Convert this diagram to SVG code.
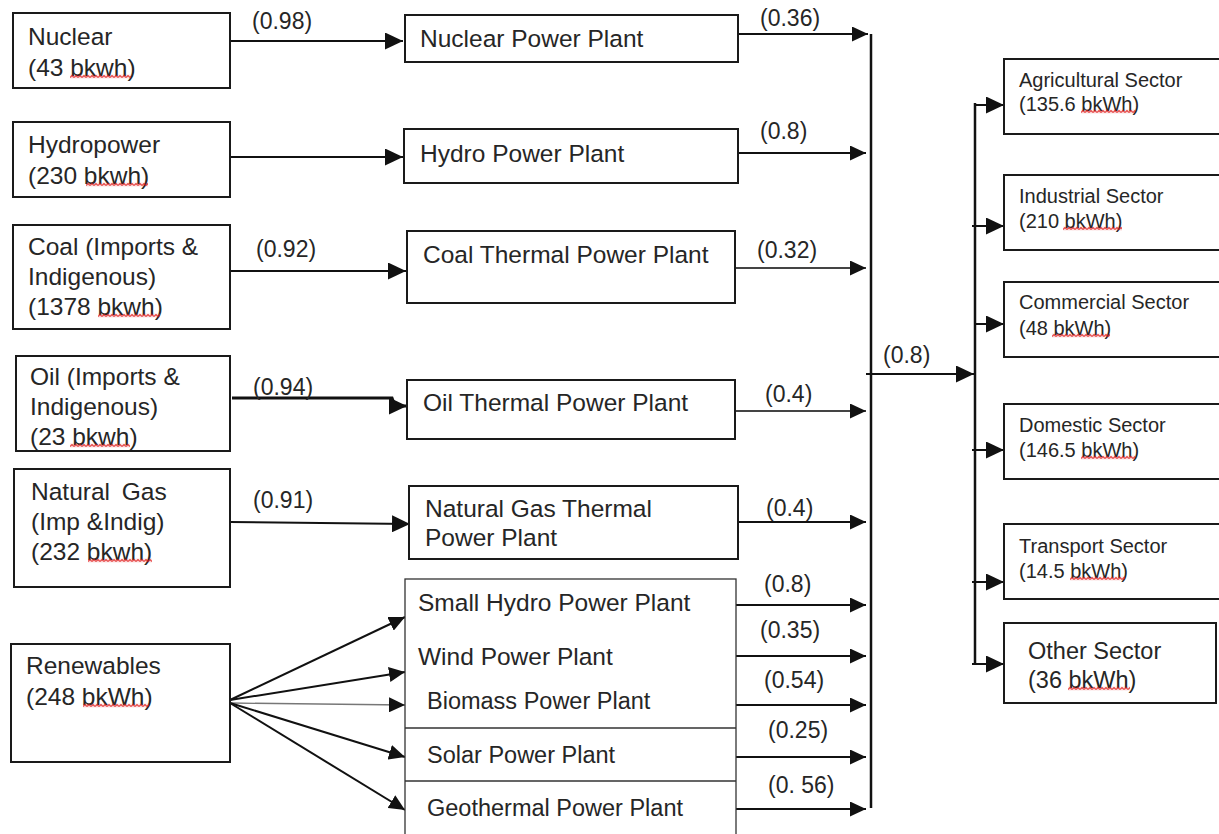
<svg xmlns="http://www.w3.org/2000/svg" width="1219" height="834" viewBox="0 0 1219 834">
<style>
.box{fill:#fff;stroke:#1a1a1a;stroke-width:2}
.thin{fill:#fff;stroke:#333;stroke-width:1.3}
.div{stroke:#333;stroke-width:1.3;fill:none}
.t{font-family:"Liberation Sans",Arial,sans-serif;fill:#262626}
.l{font-size:24.5px}
.s{font-size:20px}
.o{font-size:23.5px}
.lab{font-size:23px}
.c{stroke:#111;stroke-width:2;fill:none}
.cb{marker-end:url(#ab)}
.cs{marker-end:url(#as)}
.sq{fill:url(#sq)}
</style>
<defs>
<marker id="ab" markerUnits="userSpaceOnUse" markerWidth="18" markerHeight="17" refX="18" refY="8.5" orient="auto" viewBox="0 0 18 17"><path d="M0,0 L18,8.5 L0,17 z" fill="#111"/></marker>
<marker id="as" markerUnits="userSpaceOnUse" markerWidth="16" markerHeight="15" refX="16" refY="7.5" orient="auto" viewBox="0 0 16 15"><path d="M0,0 L16,7.5 L0,15 z" fill="#111"/></marker>
<pattern id="sq" patternUnits="userSpaceOnUse" width="4" height="4"><path d="M0,3 L2,1 L4,3" fill="none" stroke="#e01515" stroke-width="1.2"/></pattern>
</defs>

<g id="connectors">
<path class="c cb" d="M230,41 H403"/>
<path class="c cb" d="M230,157 H403"/>
<path class="c cb" d="M230,271 H406"/>
<path class="c cb" d="M232,398 H392 L395,406 H407" style="stroke-width:3"/>
<path class="c cb" d="M230,522 L410,524"/>
<path class="c cs" d="M230,700 L405,617"/>
<path class="c cs" d="M230,700 L405,672"/>
<path class="c cs" d="M230,703 L405,705" style="stroke:#777;stroke-width:1.3"/>
<path class="c cs" d="M230,703 L405,757"/>
<path class="c cs" d="M230,703 L405,810"/>
<path class="c cs" d="M738,34 H868"/>
<path class="c cs" d="M738,153 H866"/>
<path class="c cs" d="M735,268 H866" style="stroke:#444"/>
<path class="c cs" d="M735,411 H866" style="stroke:#444"/>
<path class="c cs" d="M738,522 H866"/>
<path class="c cs" d="M736,605 H866"/>
<path class="c cs" d="M736,656 H866"/>
<path class="c cs" d="M736,705 H866"/>
<path class="c cs" d="M736,757 H866"/>
<path class="c cs" d="M736,809 H866"/>
<path class="c" d="M871,34 V808" style="stroke-width:2.5"/>
<path class="c cb" d="M866,374 H974"/>
<path class="c" d="M975,103 V664" style="stroke-width:2.5"/>
<path class="c cb" d="M975,105 H1004"/>
<path class="c cb" d="M972,226 H1004"/>
<path class="c cb" d="M975,324 H1004"/>
<path class="c cb" d="M972,450 H1004"/>
<path class="c cb" d="M972,582 H1004"/>
<path class="c cb" d="M972,664 H1004"/>
<g class="t lab">
<text x="252" y="29">(0.98)</text>
<text x="256" y="257">(0.92)</text>
<text x="253" y="395">(0.94)</text>
<text x="253" y="508">(0.91)</text>
<text x="760" y="26">(0.36)</text>
<text x="760" y="139">(0.8)</text>
<text x="757" y="258">(0.32)</text>
<text x="765" y="402">(0.4)</text>
<text x="766" y="516">(0.4)</text>
<text x="764" y="592">(0.8)</text>
<text x="760" y="638">(0.35)</text>
<text x="764" y="688">(0.54)</text>
<text x="768" y="738">(0.25)</text>
<text x="768" y="793">(0. 56)</text>
<text x="883" y="363">(0.8)</text>
</g>
</g>

<g id="nuclear">
<rect class="box" x="13" y="13" width="217" height="75"/>
<text class="t l" x="28" y="45">Nuclear</text>
<text class="t l" x="28" y="76">(43 bkwh)</text>
<rect class="sq" transform="translate(70,74.5)" width="61" height="4"/>
</g>
<g id="hydropower">
<rect class="box" x="13" y="122" width="217" height="75"/>
<text class="t l" x="28" y="153">Hydropower</text>
<text class="t l" x="28" y="184">(230 bkwh)</text>
<rect class="sq" transform="translate(86,182.5)" width="62" height="4"/>
</g>
<g id="coal">
<rect class="box" x="13" y="225" width="217" height="104"/>
<text class="t l" x="28" y="255">Coal (Imports &amp;</text>
<text class="t l" x="28" y="285">Indigenous)</text>
<text class="t l" x="28" y="315">(1378 bkwh)</text>
<rect class="sq" transform="translate(98,313.5)" width="62" height="4"/>
</g>
<g id="oil">
<rect class="box" x="16" y="356" width="214" height="95"/>
<text class="t l" x="30" y="385">Oil (Imports &amp;</text>
<text class="t l" x="30" y="415">Indigenous)</text>
<text class="t l" x="30" y="445">(23 bkwh)</text>
<rect class="sq" transform="translate(70,443.5)" width="60" height="4"/>
</g>
<g id="natural-gas">
<rect class="box" x="14" y="469" width="216" height="118"/>
<text class="t l" x="31" y="500" word-spacing="5">Natural Gas</text>
<text class="t l" x="31" y="530">(Imp &amp;Indig)</text>
<text class="t l" x="31" y="560">(232 bkwh)</text>
<rect class="sq" transform="translate(88,558.5)" width="64" height="4"/>
</g>
<g id="renewables">
<rect class="box" x="11" y="644" width="219" height="118"/>
<text class="t l" x="26" y="674">Renewables</text>
<text class="t l" x="26" y="705">(248 bkWh)</text>
<rect class="sq" transform="translate(83,703.5)" width="66" height="4"/>
</g>

<g id="nuclear-power-plant">
<rect class="box" x="405" y="15" width="333" height="47"/>
<text class="t l" x="420" y="47">Nuclear Power Plant</text>
</g>
<g id="hydro-power-plant">
<rect class="box" x="404" y="129" width="334" height="54"/>
<text class="t l" x="420" y="162">Hydro Power Plant</text>
</g>
<g id="coal-thermal-power-plant">
<rect class="box" x="407" y="231" width="328" height="72"/>
<text class="t l" x="423" y="263">Coal Thermal Power Plant</text>
</g>
<g id="oil-thermal-power-plant">
<rect class="box" x="407" y="380" width="328" height="59"/>
<text class="t l" x="423" y="411">Oil Thermal Power Plant</text>
</g>
<g id="natural-gas-thermal-power-plant">
<rect class="box" x="409" y="486" width="329" height="73"/>
<text class="t l" x="425" y="517">Natural Gas Thermal</text>
<text class="t l" x="425" y="546">Power Plant</text>
</g>
<g id="renewable-plants">
<rect class="thin" x="405" y="579" width="331" height="270"/>
<path class="div" d="M405,728 H736 M405,781 H736"/>
<g id="small-hydro-power-plant"><text class="t l" x="418" y="611">Small Hydro Power Plant</text></g>
<g id="wind-power-plant"><text class="t l" x="418" y="665">Wind Power Plant</text></g>
<g id="biomass-power-plant"><text class="t l" x="427" y="709" style="font-size:23.5px">Biomass Power Plant</text></g>
<g id="solar-power-plant"><text class="t l" x="427" y="763" style="font-size:23.5px">Solar Power Plant</text></g>
<g id="geothermal-power-plant"><text class="t l" x="427" y="816" style="font-size:23.5px">Geothermal Power Plant</text></g>
</g>

<g id="agricultural-sector">
<rect class="box" x="1004" y="59" width="230" height="75"/>
<text class="t s" x="1019" y="87">Agricultural Sector</text>
<text class="t s" x="1019" y="111">(135.6 bkWh)</text>
<rect class="sq" transform="translate(1081,109.5)" width="54" height="4"/>
</g>
<g id="industrial-sector">
<rect class="box" x="1004" y="175" width="230" height="75"/>
<text class="t s" x="1019" y="203">Industrial Sector</text>
<text class="t s" x="1019" y="228">(210 bkWh)</text>
<rect class="sq" transform="translate(1063,226.5)" width="59" height="4"/>
</g>
<g id="commercial-sector">
<rect class="box" x="1004" y="282" width="230" height="75"/>
<text class="t s" x="1019" y="309">Commercial Sector</text>
<text class="t s" x="1019" y="335">(48 bkWh)</text>
<rect class="sq" transform="translate(1052,333.5)" width="58" height="4"/>
</g>
<g id="domestic-sector">
<rect class="box" x="1004" y="404" width="230" height="75"/>
<text class="t s" x="1019" y="432">Domestic Sector</text>
<text class="t s" x="1019" y="457">(146.5 bkWh)</text>
<rect class="sq" transform="translate(1081,455.5)" width="54" height="4"/>
</g>
<g id="transport-sector">
<rect class="box" x="1004" y="524" width="230" height="75"/>
<text class="t s" x="1019" y="553">Transport Sector</text>
<text class="t s" x="1019" y="578">(14.5 bkWh)</text>
<rect class="sq" transform="translate(1070,576.5)" width="55" height="4"/>
</g>
<g id="other-sector">
<rect class="box" x="1004" y="623" width="212" height="80"/>
<text class="t o" x="1028" y="659">Other Sector</text>
<text class="t o" x="1028" y="688">(36 bkWh)</text>
<rect class="sq" transform="translate(1068,686.5)" width="62" height="4"/>
</g>
</svg>
